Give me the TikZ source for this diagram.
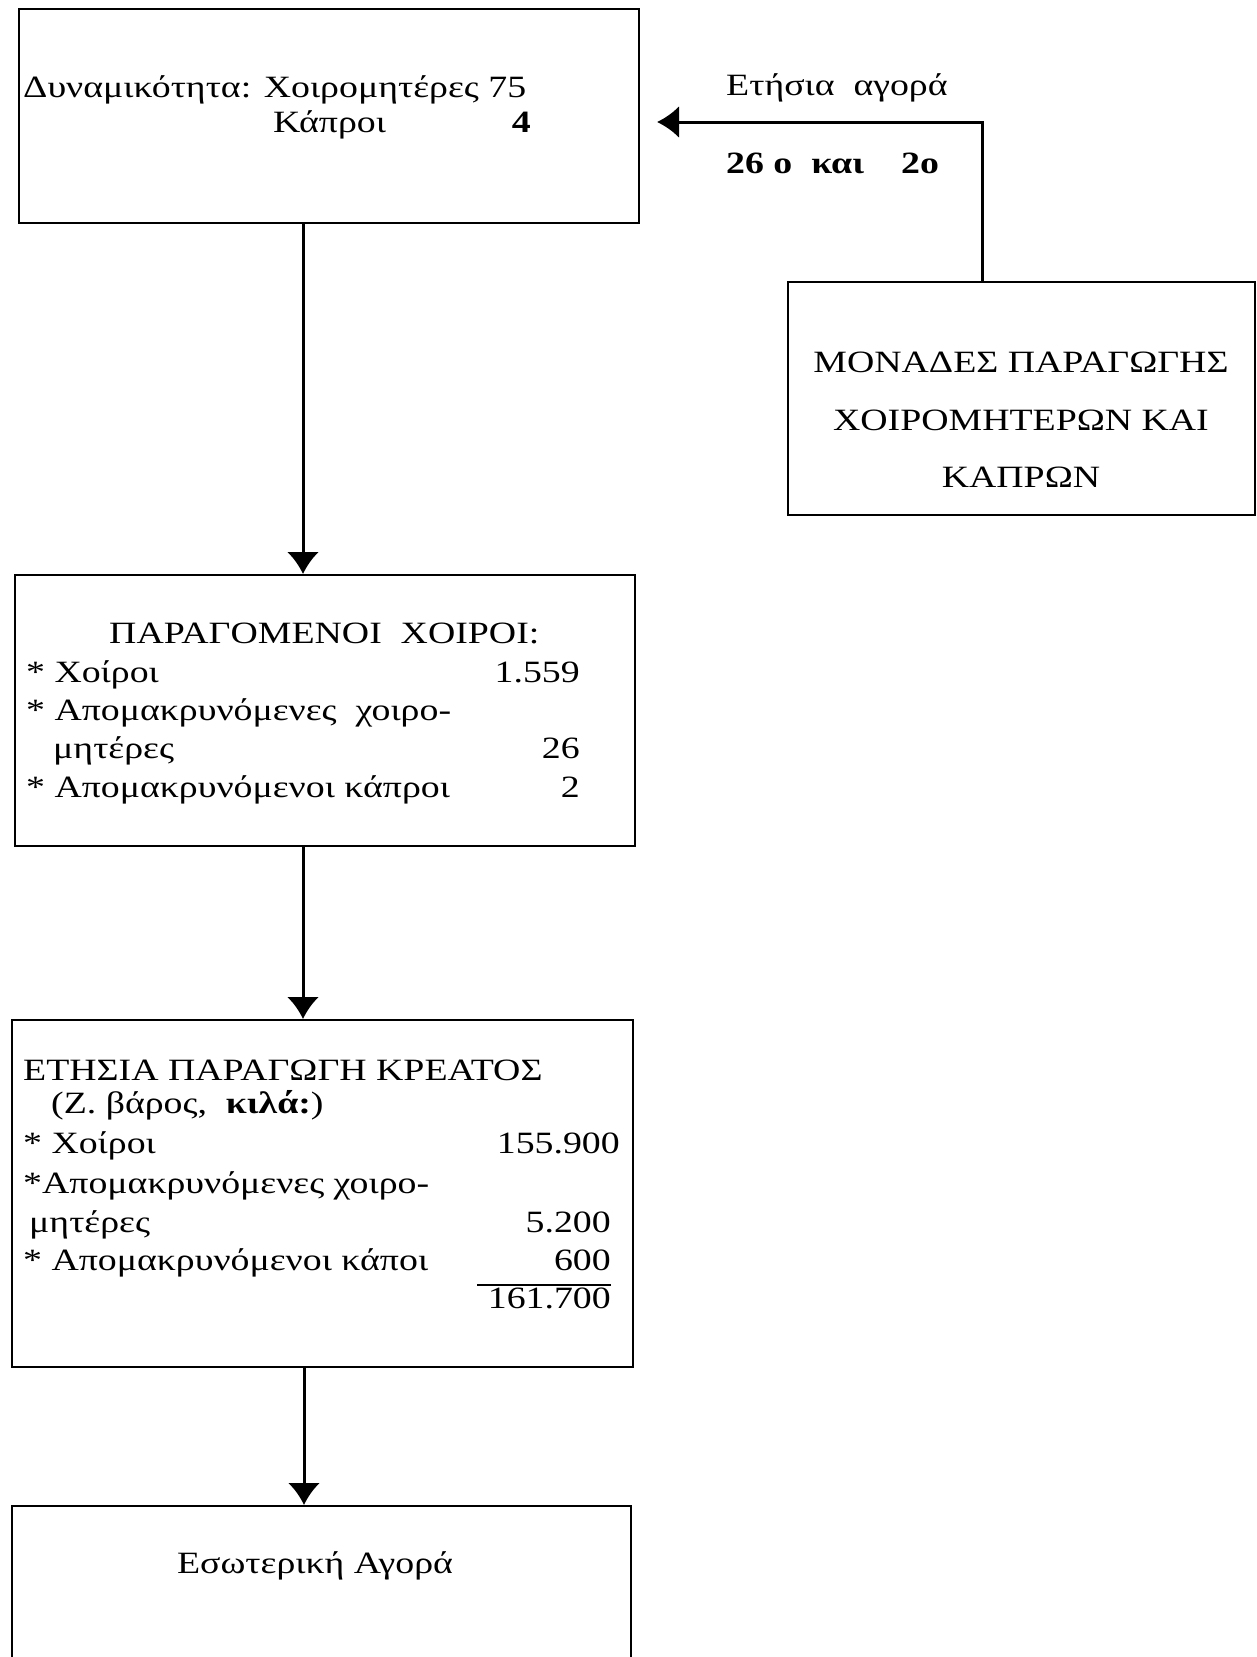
\documentclass[tikz,border=0pt]{standalone}
\usepackage{fontspec}
\setmainfont{Liberation Serif}[FakeStretch=1.22]
\usetikzlibrary{arrows.meta}
\begin{document}
\begin{tikzpicture}[x=1pt,y=-1pt,
  box/.style={draw, line width=2pt, inner sep=0pt, anchor=north west},
  arr/.style={line width=3pt, -{Latex[length=22pt,width=32pt]}},
  txt/.style={inner sep=0pt, font=\fontsize{31}{35}\selectfont},
  lt/.style={txt, anchor=base west},
  rt/.style={txt, anchor=base east},
  ct/.style={txt, anchor=base}]
\useasboundingbox[fill=white] (0,0) rectangle (1256,1657);

% boxes
\node[box, minimum width=620pt, minimum height=214pt] (b1) at (18,8) {};
\node[box, minimum width=467pt, minimum height=233pt] (b5) at (787,281) {};
\node[box, minimum width=620pt, minimum height=271pt] (b2) at (14,574) {};
\node[box, minimum width=621pt, minimum height=347pt] (b3) at (11,1019) {};
\node[box, minimum width=619pt, minimum height=250pt] (b4) at (11,1505) {};

% box 1
\node[lt] (t11) at (23,97) {Δυναμικότητα: Χοιρομητέρες 75};
\node[lt] (t12) at (273,132) {Κάπροι};
\node[rt] (t13) at (531,132) {\textbf{4}};

% box 5
\node[ct] (t51) at (1021,372) {ΜΟΝΑΔΕΣ ΠΑΡΑΓΩΓΗΣ};
\node[ct] (t52) at (1021,430) {ΧΟΙΡΟΜΗΤΕΡΩΝ ΚΑΙ};
\node[ct] (t53) at (1021,487) {ΚΑΠΡΩΝ};

% purchase connector
\coordinate (buy) at (657,122);
\draw[arr] (b5.north -| 982,0) |- (buy);
\node[lt] (l1) at (726,95) {Ετήσια\ \ αγορά};
\node[lt] (l2) at (726,173) {\textbf{26 ο\ \ και}};
\node[lt] (l3) at (901,173) {\textbf{2ο}};

% box 2
\node[lt] (t21) at (109,643) {ΠΑΡΑΓΟΜΕΝΟΙ\ \ ΧΟΙΡΟΙ:};
\node[lt] (t22) at (26,682) {* Χοίροι};
\node[rt] (t23) at (580,682) {1.559};
\node[lt] (t24) at (26,720) {* Απομακρυνόμενες\ \ χοιρο-};
\node[lt] (t25) at (53,758) {μητέρες};
\node[rt] (t26) at (580,758) {26};
\node[lt] (t27) at (26,797) {* Απομακρυνόμενοι κάπροι};
\node[rt] (t28) at (580,797) {2};

% box 3
\node[lt] (t31) at (23,1080) {ΕΤΗΣΙΑ ΠΑΡΑΓΩΓΗ ΚΡΕΑΤΟΣ};
\node[lt] (t32) at (51,1113) {(Ζ. βάρος,\ \ \textbf{κιλά:})};
\node[lt] (t33) at (23,1153) {* Χοίροι};
\node[rt] (t34) at (620,1153) {155.900};
\node[lt] (t35) at (23,1193) {*Απομακρυνόμενες χοιρο-};
\node[lt] (t36) at (29,1232) {μητέρες};
\node[rt] (t37) at (611,1232) {5.200};
\node[lt] (t38) at (23,1270) {* Απομακρυνόμενοι κάποι};
\node[rt] (t39) at (611,1270) {600};
\draw[line width=1.6pt] (t39.base east |- 0,1285) -- (477,1285);
\node[rt] (t310) at (611,1308) {161.700};

% box 4
\node[ct] (t41) at (315,1573) {Εσωτερική Αγορά};

% flow arrows
\draw[arr] (b1.south -| 303,0) -- (b2.north -| 303,0);
\draw[arr] (b2.south -| 303,0) -- (b3.north -| 303,0);
\draw[arr] (b3.south -| 304,0) -- (b4.north -| 304,0);
\end{tikzpicture}
\end{document}
